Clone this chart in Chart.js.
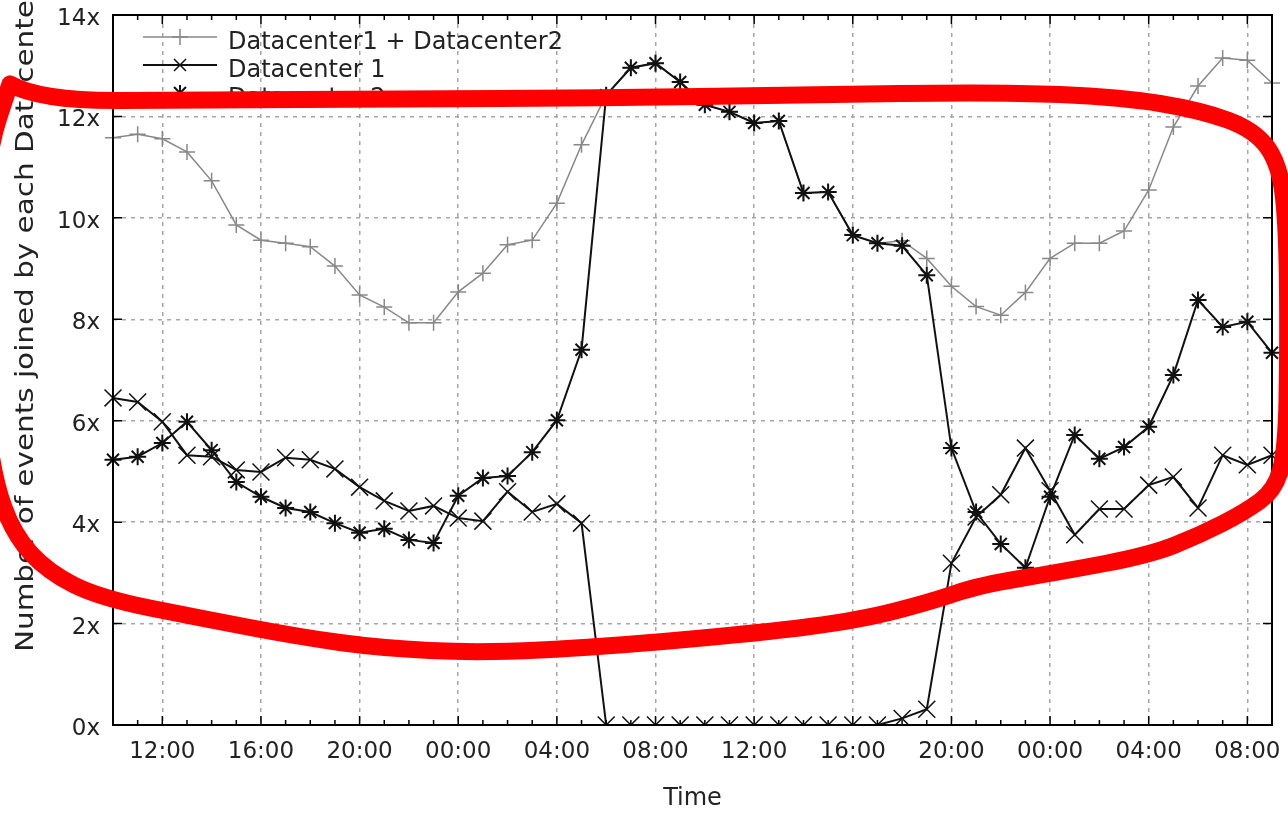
<!DOCTYPE html>
<html>
<head>
<meta charset="utf-8">
<title>Events joined by each Datacenter</title>
<script src="https://cdn.jsdelivr.net/npm/chart.js@4.4.1/dist/chart.umd.min.js"></script>
<style>
  html, body { margin: 0; padding: 0; background: #fff; }
  canvas { display: block; }
</style>
</head>
<body>
<canvas id="grafik" width="1288" height="816"></canvas>
<script>
// hourly samples, 10:00 day 1 .. 09:00 day 3
const hours = [
    "10:00", "11:00", "12:00", "13:00", "14:00", "15:00", "16:00", "17:00",
    "18:00", "19:00", "20:00", "21:00", "22:00", "23:00", "00:00", "01:00",
    "02:00", "03:00", "04:00", "05:00", "06:00", "07:00", "08:00", "09:00",
    "10:00", "11:00", "12:00", "13:00", "14:00", "15:00", "16:00", "17:00",
    "18:00", "19:00", "20:00", "21:00", "22:00", "23:00", "00:00", "01:00",
    "02:00", "03:00", "04:00", "05:00", "06:00", "07:00", "08:00", "09:00"
];

const totalBoth = [
    11.58, 11.65, 11.56, 11.30, 10.73, 9.86, 9.56, 9.50, 9.43, 9.05,
    8.48, 8.24, 7.93, 7.93, 8.54, 8.91, 9.47, 9.56, 10.29, 11.44,
    12.42, 12.96, 13.05, 12.68, 12.23, 12.09, 11.87, 11.91, 10.49, 10.51,
    9.66, 9.50, 9.55, 9.20, 8.65, 8.25, 8.08, 8.53, 9.20, 9.50,
    9.50, 9.74, 10.55, 11.79, 12.60, 13.15, 13.11, 12.66
];

const datacenter1 = [
    6.45, 6.37, 5.98, 5.32, 5.29, 5.03, 4.99, 5.27, 5.23, 5.05,
    4.69, 4.42, 4.22, 4.32, 4.08, 4.02, 4.60, 4.20, 4.36, 3.98,
    0, 0, 0, 0, 0, 0, 0, 0, 0, 0,
    0, 0, 0.13, 0.31, 3.19, 4.10, 4.54, 5.46, 4.62, 3.75,
    4.26, 4.26, 4.73, 4.89, 4.28, 5.32, 5.13, 5.32
];

const datacenter2 = [
    5.23, 5.29, 5.56, 5.98, 5.42, 4.79, 4.50, 4.28, 4.20, 3.98,
    3.79, 3.87, 3.65, 3.59, 4.52, 4.87, 4.91, 5.38, 6.01, 7.40,
    12.42, 12.96, 13.05, 12.68, 12.23, 12.09, 11.87, 11.91, 10.49, 10.51,
    9.66, 9.50, 9.45, 8.87, 5.46, 4.20, 3.57, 3.10, 4.50, 5.72,
    5.25, 5.48, 5.88, 6.90, 8.38, 7.85, 7.95, 7.34
];

const yTicks = [0, 2, 4, 6, 8, 10, 12, 14];
const yTitle = "Number of events joined by each Datacenter";
const xTitle = "Time";

// hand drawn red loop over the picture (canvas pixels)
const redLoop = [
    [10, 84], [40, 101], [200, 100], [400, 99], [600, 98], [800, 95],
    [1000, 92], [1120, 97], [1200, 110], [1255, 130], [1280, 165],
    [1287, 230], [1288, 350], [1286, 450], [1275, 490], [1245, 512],
    [1200, 535], [1150, 555], [1060, 572], [980, 585], [930, 602],
    [860, 620], [760, 633], [600, 647], [480, 653], [380, 648],
    [300, 637], [200, 618], [100, 598], [48, 572], [14, 535],
    [-6, 480], [-16, 400], [-17, 250], [-12, 150], [10, 84]
];

const fontFam = '"DejaVu Sans", "Liberation Sans", sans-serif';
const grey = "#888888";

function drawMarker(ctx, style, x, y, r) {
    ctx.beginPath();
    if (style === "cross" || style === "star") {
        ctx.moveTo(x - r, y); ctx.lineTo(x + r, y);
        ctx.moveTo(x, y - r); ctx.lineTo(x, y + r);
    }
    if (style === "crossRot" || style === "star") {
        const d = r * 0.75;
        ctx.moveTo(x - d, y - d); ctx.lineTo(x + d, y + d);
        ctx.moveTo(x - d, y + d); ctx.lineTo(x + d, y - d);
    }
    ctx.stroke();
}

const gnuplotLook = {
    id: "gnuplotLook",
    afterDatasetsDraw(chart) {
        const { ctx, chartArea: a, scales: { x, y } } = chart;
        ctx.save();

        // inward ticks on all four sides
        ctx.strokeStyle = "#000";
        ctx.lineWidth = 1.5;
        ctx.beginPath();
        hours.forEach((h, i) => {
            const px = x.getPixelForValue(i);
            const len = i % 4 === 2 ? 9 : 5;
            ctx.moveTo(px, a.bottom); ctx.lineTo(px, a.bottom - len);
            ctx.moveTo(px, a.top); ctx.lineTo(px, a.top + len);
        });
        yTicks.forEach(v => {
            const py = y.getPixelForValue(v);
            ctx.moveTo(a.left, py); ctx.lineTo(a.left + 9, py);
            ctx.moveTo(a.right, py); ctx.lineTo(a.right - 9, py);
        });
        ctx.stroke();

        // border box
        ctx.lineWidth = 2;
        ctx.strokeRect(a.left, a.top, a.right - a.left, a.bottom - a.top);

        // key, top left inside the plot
        ctx.font = "24px " + fontFam;
        ctx.textBaseline = "middle";
        ctx.textAlign = "left";
        chart.data.datasets.forEach((ds, k) => {
            const ly = a.top + 22 + k * 28;
            ctx.strokeStyle = ds.borderColor;
            ctx.lineWidth = ds.borderWidth;
            ctx.beginPath();
            ctx.moveTo(a.left + 30, ly);
            ctx.lineTo(a.left + 104, ly);
            ctx.stroke();
            ctx.lineWidth = ds.pointBorderWidth;
            drawMarker(ctx, ds.pointStyle, a.left + 67, ly, 8);
            ctx.fillStyle = "#222";
            ctx.fillText(ds.label, a.left + 115, ly + 6);
        });

        // y axis title, rotated
        ctx.font = "24px " + fontFam;
        const w = ctx.measureText(yTitle).width;
        ctx.translate(33, 652);
        ctx.rotate(-Math.PI / 2);
        ctx.scale(664 / w, 1);
        ctx.textBaseline = "alphabetic";
        ctx.fillStyle = "#222";
        ctx.fillText(yTitle, 0, 0);
        ctx.restore();
    },
    afterDraw(chart) {
        const ctx = chart.ctx;
        ctx.save();
        ctx.strokeStyle = "#ff0000";
        ctx.lineWidth = 17;
        ctx.lineJoin = "round";
        ctx.lineCap = "round";
        ctx.beginPath();
        ctx.moveTo(redLoop[0][0], redLoop[0][1]);
        for (let i = 1; i < redLoop.length - 1; i++) {
            const p = redLoop[i], q = redLoop[i + 1];
            ctx.quadraticCurveTo(p[0], p[1], (p[0] + q[0]) / 2, (p[1] + q[1]) / 2);
        }
        const last = redLoop[redLoop.length - 1];
        ctx.lineTo(last[0], last[1]);
        ctx.stroke();
        ctx.restore();
    }
};

const ctx = document.getElementById("grafik");

new Chart(ctx, {
    type: "line",
    data: {
        labels: hours,
        datasets: [
            {
                label: "Datacenter1 + Datacenter2",
                data: totalBoth,
                borderColor: grey,
                backgroundColor: grey,
                borderWidth: 1.5,
                pointStyle: "cross",
                pointRadius: 8,
                pointBorderColor: grey,
                pointBorderWidth: 1.5,
                tension: 0,
                order: 2
            },
            {
                label: "Datacenter 1",
                data: datacenter1,
                borderColor: "#111",
                backgroundColor: "#111",
                borderWidth: 2,
                pointStyle: "crossRot",
                pointRadius: 12,
                pointBorderColor: "#111",
                pointBorderWidth: 1.5,
                tension: 0,
                order: 1
            },
            {
                label: "Datacenter 2",
                data: datacenter2,
                borderColor: "#111",
                backgroundColor: "#111",
                borderWidth: 2,
                pointStyle: "star",
                pointRadius: 8.5,
                pointBorderColor: "#111",
                pointBorderWidth: 2,
                tension: 0,
                order: 0
            }
        ]
    },
    options: {
        responsive: false,
        animation: false,
        events: [],
        layout: { padding: { top: 15, right: 16, left: 0, bottom: 0 } },
        plugins: {
            legend: { display: false },
            tooltip: { enabled: false }
        },
        scales: {
            x: {
                type: "category",
                offset: false,
                afterFit: scale => {
                    scale.height = 91;
                    scale.paddingLeft = 0;
                    scale.paddingRight = 0;
                },
                grid: {
                    drawTicks: false,
                    lineWidth: 1.5,
                    color: c => (c.index % 4 === 2 ? "#a6a6a6" : "rgba(0,0,0,0)")
                },
                border: { display: false, dash: [4, 5] },
                ticks: {
                    autoSkip: false,
                    maxRotation: 0,
                    padding: 13,
                    color: "#222",
                    font: { family: fontFam, size: 23 },
                    callback: (v, i) => (i % 4 === 2 ? hours[i] : "")
                },
                title: {
                    display: true,
                    text: xTitle,
                    color: "#222",
                    font: { family: fontFam, size: 24 },
                    padding: { top: 0, bottom: 3 }
                }
            },
            y: {
                min: 0,
                max: 14,
                afterFit: scale => {
                    scale.width = 113;
                    scale.paddingTop = 0;
                    scale.paddingBottom = 0;
                },
                grid: {
                    drawTicks: false,
                    lineWidth: 1.5,
                    color: "#a6a6a6"
                },
                border: { display: false, dash: [4, 5] },
                afterBuildTicks: scale => {
                    scale.ticks = yTicks.map(v => ({ value: v }));
                },
                ticks: {
                    padding: 13,
                    labelOffset: 4,
                    color: "#222",
                    font: { family: fontFam, size: 23 },
                    callback: v => v + "x"
                }
            }
        }
    },
    plugins: [gnuplotLook]
});
</script>
</body>
</html>
